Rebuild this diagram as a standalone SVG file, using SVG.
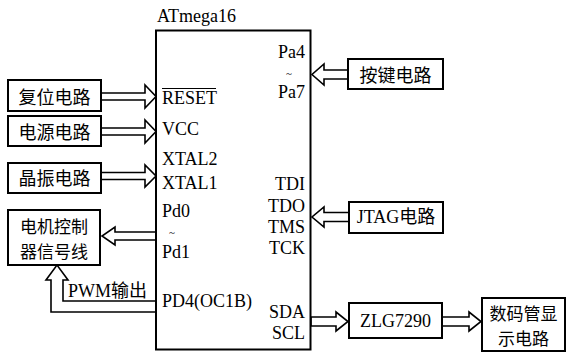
<svg xmlns="http://www.w3.org/2000/svg" width="569" height="356" viewBox="0 0 569 356">
<style>
.box{fill:#fff;stroke:#000;stroke-width:2}
.arr{fill:#fff;stroke:#000;stroke-width:1.6;stroke-linejoin:miter}
.t{font-family:"Liberation Serif","Noto Sans CJK SC",serif;font-size:18px;fill:#000}
.c{font-family:"Noto Sans CJK SC","Liberation Serif",sans-serif;font-size:18px;fill:#000}
.m{text-anchor:middle;dominant-baseline:central}
.r{text-anchor:end}
.tl{font-family:"Liberation Serif",serif;font-size:11px;fill:#000;text-anchor:middle}
</style>
<rect width="569" height="356" fill="#fff"/>
<g id="connectors">
<polygon class="arr" points="101,93 145,93 145,85 156,96.5 145,108 145,100 101,100"/>
<polygon class="arr" points="101,128 145,128 145,120 156,131.5 145,143 145,135 101,135"/>
<polygon class="arr" points="101,172.5 145,172.5 145,165 156,176 145,187 145,179.5 101,179.5"/>
<polygon class="arr" points="156,232 115,232 115,227 102,236 115,245 115,240 156,240"/>
<polygon class="arr" points="156,301 63,301 63,280 68,280 57,265 46,280 51,280 51,312 156,312"/>
<polygon class="arr" points="348,70 324,70 324,64 312,74.5 324,85 324,79 348,79"/>
<polygon class="arr" points="349,212.5 324,212.5 324,207 312,217 324,227 324,221.5 349,221.5"/>
<polygon class="arr" points="311,317 336,317 336,312 348,321.5 336,331 336,326 311,326"/>
<polygon class="arr" points="442,317 469,317 469,312 481,321.5 469,331 469,326 442,326"/>
</g>
<g id="mcu">
<rect class="box" x="156" y="30.5" width="154.5" height="319"/>
<text class="t" x="157" y="22">ATmega16</text>
<text class="t" x="162" y="104">RESET</text>
<line x1="162" y1="88.5" x2="216" y2="88.5" stroke="#000" stroke-width="1.2"/>
<text class="t" x="162" y="135">VCC</text>
<text class="t" x="162" y="165">XTAL2</text>
<text class="t" x="162" y="189">XTAL1</text>
<text class="t" x="162" y="217">Pd0</text>
<text class="tl" x="172" y="236">~</text>
<text class="t" x="162" y="258">Pd1</text>
<text class="t" x="162" y="307">PD4(OC1B)</text>
<text class="t r" x="305" y="58">Pa4</text>
<text class="tl" x="289" y="77">~</text>
<text class="t r" x="305" y="98">Pa7</text>
<text class="t r" x="305" y="190">TDI</text>
<text class="t r" x="305" y="212">TDO</text>
<text class="t r" x="305" y="233">TMS</text>
<text class="t r" x="305" y="254">TCK</text>
<text class="t r" x="305" y="318">SDA</text>
<text class="t r" x="305" y="339">SCL</text>
</g>
<g id="reset">
<rect class="box" x="8" y="80" width="93" height="31"/>
<text class="c m" x="54.5" y="96">复位电路</text>
</g>
<g id="power">
<rect class="box" x="8" y="116" width="93" height="30"/>
<text class="c m" x="54.5" y="131">电源电路</text>
</g>
<g id="crystal">
<rect class="box" x="8" y="163" width="93" height="30"/>
<text class="c m" x="54.5" y="177">晶振电路</text>
</g>
<g id="motor">
<rect class="box" x="8" y="210" width="92" height="55"/>
<text class="c m" x="54" y="225" style="font-size:17px">电机控制</text>
<text class="c m" x="54" y="250" style="font-size:17px">器信号线</text>
</g>
<g id="pwm-label">
<text class="t" x="68" y="297">PWM输出</text>
</g>
<g id="keys">
<rect class="box" x="348" y="59" width="95" height="30"/>
<text class="c m" x="395.5" y="74">按键电路</text>
</g>
<g id="jtag">
<rect class="box" x="349" y="202" width="94" height="31"/>
<text class="t m" x="396" y="217">JTAG电路</text>
</g>
<g id="zlg">
<rect class="box" x="349" y="303" width="93" height="35"/>
<text class="t m" x="395.5" y="321">ZLG7290</text>
</g>
<g id="display">
<rect class="box" x="482" y="298" width="83" height="53"/>
<text class="c m" x="523.5" y="312" style="font-size:17px">数码管显</text>
<text class="c m" x="523.5" y="337" style="font-size:17px">示电路</text>
</g>
</svg>
